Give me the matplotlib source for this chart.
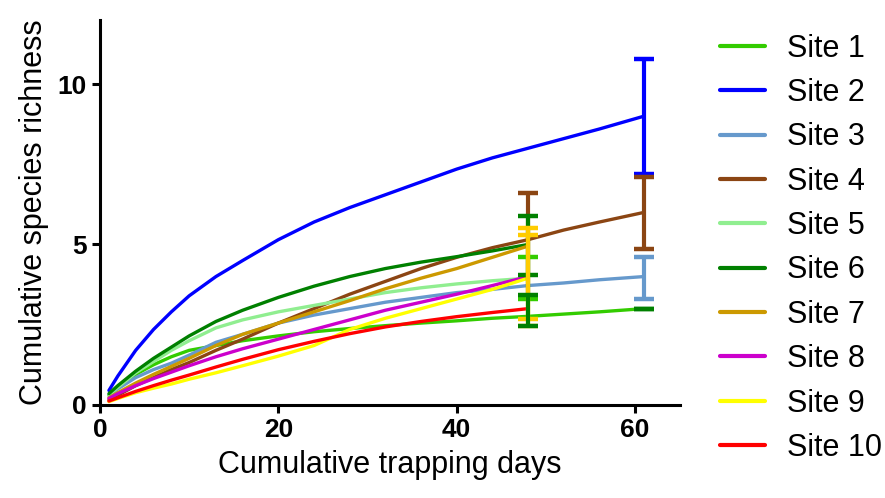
import matplotlib
matplotlib.use("Agg")
from matplotlib import pyplot as plt

plt.rcParams['font.family'] = ['Liberation Sans', 'DejaVu Sans']

days_48 = [1, 2, 4, 6, 8, 10, 13, 16, 20, 24, 28, 32, 36, 40, 44, 48]
days_61 = days_48 + [52, 56, 61]

site_names = ["Site 1", "Site 2", "Site 3", "Site 4", "Site 5",
              "Site 6", "Site 7", "Site 8", "Site 9", "Site 10"]

site1 = [0.3, 0.55, 0.95, 1.25, 1.5, 1.7, 1.85, 2.0, 2.15, 2.28, 2.38, 2.47, 2.55, 2.62, 2.7, 2.76, 2.83, 2.9, 3.0]
site2 = [0.45, 0.9, 1.7, 2.35, 2.9, 3.4, 4.0, 4.5, 5.15, 5.7, 6.15, 6.55, 6.95, 7.35, 7.7, 8.0, 8.3, 8.6, 9.0]
site3 = [0.3, 0.5, 0.85, 1.1, 1.3, 1.55, 1.95, 2.2, 2.55, 2.8, 3.0, 3.2, 3.35, 3.5, 3.6, 3.72, 3.8, 3.9, 4.0]
site4 = [0.15, 0.3, 0.6, 0.85, 1.1, 1.32, 1.7, 2.05, 2.55, 3.0, 3.45, 3.85, 4.25, 4.6, 4.9, 5.15, 5.45, 5.7, 6.0]
site5 = [0.3, 0.55, 1.0, 1.35, 1.7, 2.0, 2.4, 2.65, 2.9, 3.1, 3.3, 3.5, 3.65, 3.77, 3.87, 3.95]
site6 = [0.35, 0.6, 1.05, 1.45, 1.8, 2.15, 2.6, 2.95, 3.35, 3.7, 4.0, 4.25, 4.45, 4.62, 4.8, 5.0]
site7 = [0.22, 0.38, 0.68, 0.95, 1.2, 1.45, 1.85, 2.2, 2.55, 2.9, 3.25, 3.62, 3.95, 4.25, 4.6, 4.95]
site8 = [0.2, 0.35, 0.6, 0.82, 1.02, 1.22, 1.5, 1.75, 2.05, 2.35, 2.65, 2.95, 3.2, 3.45, 3.72, 4.0]
site9 = [0.1, 0.2, 0.38, 0.52, 0.65, 0.8, 1.0, 1.22, 1.52, 1.85, 2.35, 2.7, 3.0, 3.3, 3.6, 3.95]
site10 = [0.12, 0.22, 0.42, 0.6, 0.77, 0.93, 1.18, 1.42, 1.72, 1.98, 2.22, 2.43, 2.6, 2.75, 2.88, 3.0]

colors = ['#33cc00', '#0000ff', '#6699cc', '#8b4513', '#90ee90',
          '#008000', '#cc9900', '#cc00cc', '#ffff00', '#ff0000']

# error bars at the end of each series (as drawn, back to front)
err_x = [48, 48, 48, 48, 48, 48, 61, 61, 61, 61]
err_low = [3.33, 4.06, 3.30, 2.45, 2.68, 2.47, 7.19, 4.86, 3.30, 3.0]
err_high = [6.61, 5.89, 4.61, 5.52, 5.28, 3.44, 10.78, 7.11, 4.61, 3.0]
err_colors = ['#8b4513', '#008000', '#33cc00', '#ffcc00', '#ffcc00',
              '#008000', '#0000ff', '#8b4513', '#6699cc', '#008000']

fig = plt.figure(figsize=(8.85, 4.98), dpi=100)
ax = fig.add_axes([0.113, 0.187, 0.655, 0.773])

series = [site1, site2, site3, site4, site5, site6, site7, site8, site9, site10]
for name, vals, c in zip(site_names, series, colors):
    xs = days_61 if len(vals) == len(days_61) else days_48
    ax.plot(xs, vals, color=c, lw=2.4, label=name, solid_capstyle='round')

for x, lo, hi, c in zip(err_x, err_low, err_high, err_colors):
    mid = (lo + hi) / 2
    ax.errorbar([x], [mid], yerr=[[mid - lo], [hi - mid]], fmt='none',
                ecolor=c, elinewidth=3, capsize=7, capthick=3.2, clip_on=False)

ax.set_xlim(0, 65)
ax.set_ylim(0, 12)
ax.set_xticks([0, 20, 40, 60])
ax.set_yticks([0, 5, 10])
for s in ['top', 'right']:
    ax.spines[s].set_visible(False)
for s in ['left', 'bottom']:
    ax.spines[s].set_linewidth(2.2)
ax.tick_params(width=2.2, length=6, labelsize=19)
for lab in ax.get_xticklabels() + ax.get_yticklabels():
    lab.set_fontweight('bold')

ax.set_xlabel('Cumulative trapping days', fontsize=22, labelpad=6)
ax.set_ylabel('Cumulative species richness', fontsize=22, labelpad=6)

leg = ax.legend(loc='upper left', bbox_to_anchor=(0.80, 0.957), bbox_transform=fig.transFigure,
                frameon=False, fontsize=22, handlelength=1.45, handletextpad=0.75,
                labelspacing=0.47, borderaxespad=0)
for line in leg.get_lines():
    line.set_linewidth(3)

fig.savefig('out.png', dpi=100)
